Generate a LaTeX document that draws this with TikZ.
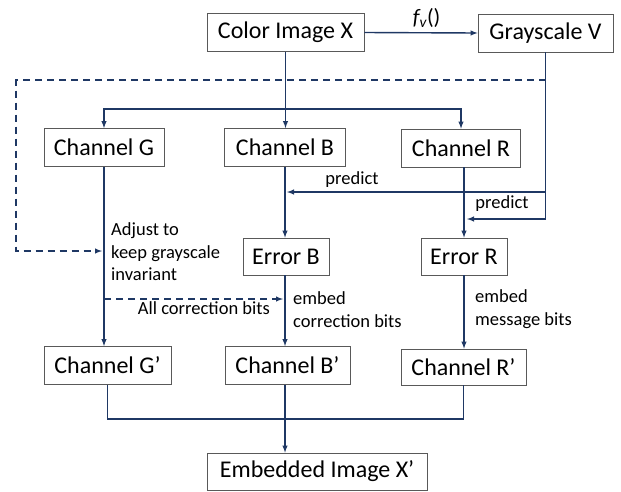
\documentclass[tikz,border=0pt]{standalone}
\usepackage{fontspec}
\setmainfont{Carlito}
\definecolor{navy}{HTML}{1F3864}
\tikzset{
  blk/.style={draw=black!65, line width=0.8pt, inner sep=0pt, minimum height=38pt, font=\fontsize{24}{28}\selectfont},
  lbl/.style={font=\fontsize{18.5}{22.5}\selectfont, align=left, inner sep=0pt},
  flow/.style={navy, line width=1.4pt},
  fb/.style={navy, line width=1.4pt, dash pattern=on 7pt off 5pt}
}
\begin{document}
\begin{tikzpicture}[x=1pt,y=-1pt]
\useasboundingbox (0,0) rectangle (621,491) ;
\node [blk, minimum width=157pt] (colorX) at (285.5,32.5) {Color Image X} ;
\node [blk, minimum width=135pt] (grayV) at (545.5,33) {Grayscale V} ;
\node [blk, minimum width=120pt] (chG) at (104,147.5) {Channel G} ;
\node [blk, minimum width=121pt] (chB) at (285,147.5) {Channel B} ;
\node [blk, minimum width=119pt] (chR) at (461,148) {Channel R} ;
\node [blk, minimum width=86pt, minimum height=37pt] (errB) at (286,256.5) {Error B} ;
\node [blk, minimum width=86pt, minimum height=37pt] (errR) at (464,256.5) {Error R} ;
\node [blk, minimum width=127pt] (chGp) at (107.5,365.5) {Channel G’} ;
\node [blk, minimum width=125pt] (chBp) at (287.5,365.5) {Channel B’} ;
\node [blk, minimum width=125pt, minimum height=36pt] (chRp) at (463.5,367) {Channel R’} ;
\node [blk, minimum width=220pt, minimum height=37pt] (embX) at (317,471.5) {Embedded Image X’} ;
\coordinate (splitY) at (0,109) ;
\coordinate (mergeY) at (0,419) ;
\coordinate (predB) at (287,192) ;
\coordinate (predR) at (467,219) ;
\coordinate (fbTop) at (16,80) ;
\coordinate (fbBot) at (16,251) ;
\coordinate (fbEnd) at (102,251) ;
\coordinate (corrEnd) at (283,299) ;
\draw [flow,-{latex}] (colorX.east) -- (grayV.west) node [pos=0.55, above=1pt, text=black, font=\fontsize{22}{26}\selectfont] (fvLbl) {\itshape f\textsubscript{v}\upshape()} ;
\draw [flow,-{latex}] (colorX.south) -- (colorX.south |- chB.north) ;
\draw [flow,{latex}-{latex}] (chG.north) |- (chR.north |- splitY) -- (chR.north) ;
\draw [fb,-{latex}] (grayV.south |- fbTop) -- (fbTop) -- (fbBot) -- (fbEnd) ;
\draw [flow,-{latex}] (grayV.south) |- (predR) ;
\draw [flow,-{latex}] (grayV.south |- predB) -- (predB) ;
\draw [flow,-{latex}] (chB.south) -- (chB.south |- errB.north) ;
\draw [flow,-{latex}] (chR.south -| errR) -- (errR.north) ;
\draw [flow,-{latex}] (chG.south) -- (chG.south |- chGp.north) ;
\draw [fb,-{latex}] (chG.south |- corrEnd) -- (corrEnd) ;
\draw [flow,-{latex}] (errB.south -| chB) -- (chB |- chBp.north) ;
\draw [flow,-{latex}] (errR.south) -- (errR.south |- chRp.north) ;
\draw [flow] (chGp.south) -- (chGp.south |- mergeY) -| (chRp.south) ;
\draw [flow,-{latex}] (chBp.south -| chB) -- (chB |- embX.north) ;
\node [lbl] (predLblB) at (352,180) {predict} ;
\node [lbl] (predLblR) at (502,204) {predict} ;
\node [lbl, anchor=west] (adjLbl) at (111,252) {Adjust to\\keep grayscale\\invariant} ;
\node [lbl, anchor=east] (allLbl) at (270,308) {All correction bits} ;
\node [lbl, anchor=west] (embLblB) at (293,309.5) {embed\\correction bits} ;
\node [lbl, anchor=west] (embLblR) at (475,309) {embed\\message bits} ;
\end{tikzpicture}
\end{document}
